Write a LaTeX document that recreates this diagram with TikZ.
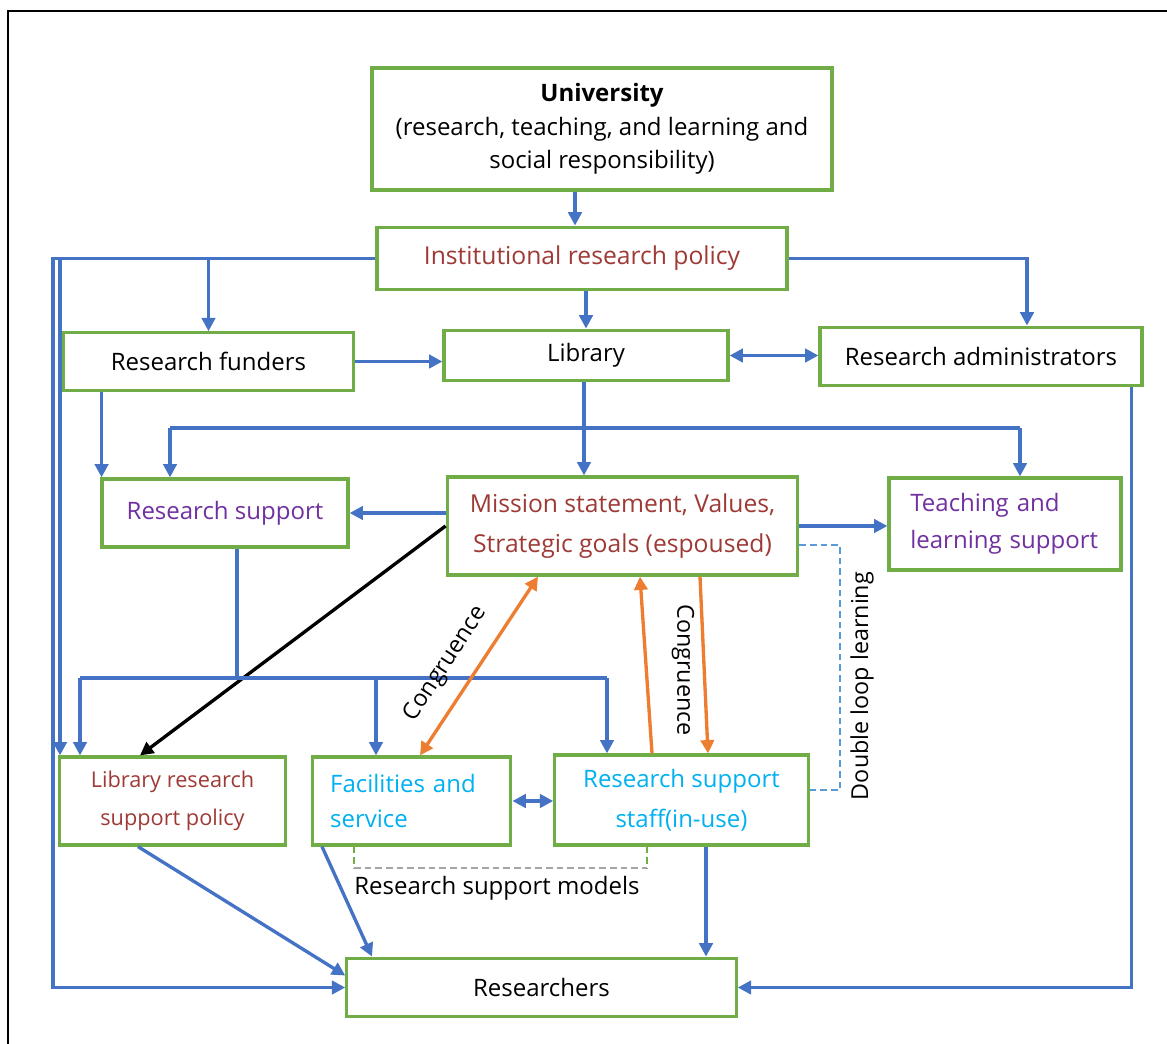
\documentclass[tikz,border=0pt]{standalone}
\usepackage{fontspec}
\setmainfont{Open Sans}
\usetikzlibrary{arrows.meta,calc}

\definecolor{boxgreen}{HTML}{70AD47}
\definecolor{linkblue}{HTML}{4472C4}
\definecolor{congorange}{HTML}{ED7D31}
\definecolor{polred}{HTML}{9E3A36}
\definecolor{suppurple}{HTML}{7030A0}
\definecolor{usecyan}{HTML}{00B0F0}
\definecolor{loopblue}{HTML}{5B9BD5}

\tikzset{
  box/.style={draw=boxgreen, line width=2.4pt, align=center, inner sep=2pt,
    font=\fontsize{18}{28}\selectfont},
  lbl/.style={inner sep=1pt, font=\fontsize{17.5}{20}\selectfont},
  linkline/.style={linkblue, line width=2.5pt},
  link/.style={linkline, -{Triangle[length=10pt,width=10pt]}},
  link2/.style={linkline, {Triangle[length=10pt,width=10pt]}-{Triangle[length=10pt,width=10pt]}},
  cong/.style={congorange, line width=2.5pt, -{Triangle[length=10pt,width=10pt]}},
  cong2/.style={cong, {Triangle[length=10pt,width=10pt]}-{Triangle[length=10pt,width=10pt]}},
  loopline/.style={loopblue, line width=1pt, dash pattern=on 5pt off 3pt}
}

\begin{document}
\begin{tikzpicture}[x=0.75pt, y=-0.75pt]
\useasboundingbox (0,0) rectangle (1167,1043);
\draw[line width=1.5pt] (8,1100) -- (8,11) -- (1200,11);

% Boxes
\node[box, minimum width=345pt, minimum height=91.5pt, font=\fontsize{18}{25}\selectfont] (univ) at (602,129)
  {\textbf{University}\\(research, teaching, and learning and\\social responsibility)};
\node[box, minimum width=307.5pt, minimum height=47pt, text=polred, font=\fontsize{18.5}{28}\selectfont] (irp) at (582,258.5) {Institutional research policy};
\node[box, minimum width=218pt, minimum height=43pt] (funders) at (208.5,361.5) {Research funders};
\node[box, minimum width=213pt, minimum height=38pt] (library) at (586,355.5) {Library};
\node[box, minimum width=241.5pt, minimum height=44pt] (admin) at (981,356.5) {Research administrators};
\node[box, minimum width=184.5pt, minimum height=51pt, text=suppurple] (rsupport) at (225,513) {Research support};
\node[box, minimum width=263pt, minimum height=73.5pt, text=polred, font=\fontsize{18.5}{30}\selectfont] (mission) at (622.5,526)
  {Mission statement, Values,\\Strategic goals (espoused)};
\node[box, minimum width=174pt, minimum height=69pt, text width=142pt, inner xsep=16pt, align=left, text=suppurple] (teaching) at (1005,524)
  {Teaching and\\learning support};
\node[box, minimum width=170pt, minimum height=66pt, text=polred, font=\fontsize{16.3}{28}\selectfont] (lrsp) at (172.5,801)
  {Library research\\support policy};
\node[box, minimum width=149pt, minimum height=66pt, text width=122pt, inner xsep=13.5pt, align=left, text=usecyan, font=\fontsize{18}{26}\selectfont] (facilities) at (411.5,801)
  {Facilities and\\service};
\node[box, minimum width=190pt, minimum height=67.5pt, text=usecyan, font=\fontsize{18}{30}\selectfont] (staff) at (681.5,800)
  {Research support\\staff(in-use)};
\node[box, minimum width=292pt, minimum height=44pt] (researchers) at (541.5,987.5) {Researchers};

% Routing points
\coordinate (rail) at (53,262);
\coordinate (rail2) at (60,262);
\coordinate (admn) at (1027,262);
\coordinate (lb) at (170,428);
\coordinate (rb) at (1020,428);
\coordinate (bus) at (237,678);
\coordinate (bl) at (80,678);
\coordinate (bm) at (376,678);
\coordinate (br) at (607,678);
\coordinate (loopa) at (840,545);
\coordinate (loopb) at (840,790);
\coordinate (ma) at (354,868);
\coordinate (mb) at (647,868);

% Upper part
\draw[link] ($(univ.south)+(-27,0)$) -- ($(irp.north)+(-7,0)$);
\draw[link] (irp.west) -- (rail |- irp.west) -- (rail |- researchers.west) -- (researchers.west);
\draw[link] (rail2 |- irp.west) -- (rail2 |- lrsp.north);
\draw[link] (funders.north |- irp.west) -- (funders.north);
\draw[link] (irp.south -| library.north) -- (library.north);
\draw[link] (irp.east) -- (irp.east -| admn) -- (admn |- admin.north);
\draw[link] (funders.east) -- (library.west |- funders.east);
\draw[link2] (library.east) -- (admin.west |- library.east);
\draw[link] ($(funders.south west)+(40,0)$) coordinate (fdrop) -- (fdrop |- rsupport.north);

% Library to the three support boxes
\draw[link] ($(library.south)+(-2,0)$) coordinate (ldrop) -- (ldrop |- mission.north);
\draw[linkline] (lb) -- (rb);
\draw[link] (lb) -- (lb |- rsupport.north);
\draw[link] (rb) -- (rb |- teaching.north);
\draw[link] (mission.west |- rsupport.east) -- (rsupport.east);
\draw[link] (mission.east) -- (teaching.west |- mission.east);
\draw[black, line width=2.5pt, -{Triangle[length=10pt,width=10pt]}] (mission.west) -- ($(lrsp.north)+(-32.5,0)$);

% Lower distribution
\draw[linkline] (rsupport.south -| bus) -- (bus);
\draw[linkline] (bl) -- (br);
\draw[link] (bl) -- (bl |- lrsp.north);
\draw[link] (bm) -- (bm |- facilities.north);
\draw[link] (br) -- (br |- staff.north);
\draw[link2] (facilities.east) -- (staff.west |- facilities.east);

% To researchers
\draw[link] ($(lrsp.south)+(-34.5,0)$) -- ($(researchers.west)+(0,-12)$);
\draw[link] ($(facilities.south)+(-89.5,0)$) -- ($(researchers.north)+(-169.5,0)$);
\draw[link] ($(staff.south)+(24.5,0)$) coordinate (sdrop) -- (sdrop |- researchers.north);
\draw[link] ($(admin.south east)+(-12,0)$) coordinate (bk) -- (bk |- researchers.east) -- (researchers.east);

% Congruence
\draw[cong2] ($(mission.south)+(-84.5,0)$) -- ($(facilities.north)+(8.5,0)$);
\draw[cong] ($(staff.north)+(-29.5,0)$) -- ($(mission.south)+(17.5,0)$);
\draw[cong] ($(mission.south)+(77.5,0)$) -- ($(staff.north)+(26.5,0)$);
\node[lbl, rotate=57] (congA) at (446,664) {Congruence};
\node[lbl, rotate=-90] (congB) at (683,670) {Congruence};

% Double loop learning
\draw[loopline] (mission.east |- loopa) -- (loopa) -- (loopb) -- (staff.east |- loopb);
\node[lbl, rotate=90] (dll) at (862,686) {Double loop learning};

% Research support models
\draw[boxgreen, line width=1pt, dash pattern=on 5pt off 3pt] (facilities.south -| ma) -- (ma);
\draw[boxgreen, line width=1pt, dash pattern=on 5pt off 3pt] (staff.south -| mb) -- (mb);
\draw[gray!70, line width=1pt, dash pattern=on 5pt off 3pt] (ma) -- (mb);
\node[lbl, font=\fontsize{18}{20}\selectfont] (models) at (497,888) {Research support models};

\end{tikzpicture}
\end{document}
